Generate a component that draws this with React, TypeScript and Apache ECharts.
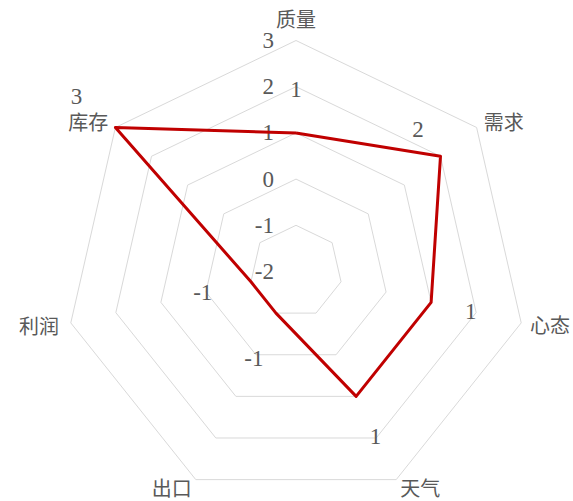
import React, { useEffect, useRef } from "react";
import * as echarts from "echarts";

// Categories read clockwise starting from the top axis
const categories = ["质量", "需求", "心态", "天气", "出口", "利润", "库存"];
const values = [1, 2, 1, 1, -1, -1, 3];
const axisMin = -2;
const axisMax = 3;
const tickLabels = ["-2", "-1", "0", "1", "2", "3"];
// radial placement (in axis units) of each value label
const labelAnchors = [1.95, 1.99, 1.88, 1.96, 0.1, 0.07, 4.08];
// gap between each axis end and its name
const nameGaps = [12, 9, 9, 9, 9, 12, 9];

const GRAY = "#595959";
const NUM_FONT = "'Liberation Serif', 'Times New Roman', serif";
const CJK_FONT = "'Noto Sans CJK SC', sans-serif";

export default function App() {
  const ref = useRef<HTMLDivElement>(null);
  useEffect(() => {
    const chart = echarts.init(ref.current!, null, { renderer: "svg" });
    // ECharts lays radar indicators counter-clockwise; reorder so the chart reads clockwise
    const n = categories.length;
    const order = [0, ...categories.slice(1).map((_, i) => n - 1 - i)];
    const indicator = order.map((i, k) => ({
      name: categories[i],
      min: axisMin,
      max: axisMax,
      nameGap: nameGaps[i],
      ...(k === 0
        ? {
            axisLabel: {
              show: true,
              color: GRAY,
              fontFamily: NUM_FONT,
              fontSize: 23,
              margin: 22,
              formatter: (v: number) => tickLabels[Math.round(v - axisMin)],
            },
          }
        : {}),
    }));
    chart.setOption({
      animation: false,
      radar: {
        center: [296, 271.5],
        radius: 231,
        startAngle: 90,
        splitNumber: 5,
        shape: "polygon",
        indicator,
        nameGap: 9,
        axisName: { color: GRAY, fontSize: 20, fontFamily: CJK_FONT },
        axisLine: { show: false },
        axisTick: { show: false },
        axisLabel: { show: false },
        splitArea: { show: false },
        splitLine: { lineStyle: { color: "#d9d9d9", width: 1 } },
      },
      series: [
        {
          type: "radar",
          symbol: "none",
          lineStyle: { color: "#C00000", width: 3 },
          data: [{ value: order.map((i) => values[i]) }],
          z: 3,
        },
        {
          type: "radar",
          symbol: "circle",
          symbolSize: 1,
          itemStyle: { color: "rgba(0,0,0,0)" },
          lineStyle: { width: 0, opacity: 0 },
          label: {
            show: true,
            position: "inside",
            formatter: (p: any) => {
              const i = labelAnchors.indexOf(p.value);
              const t = String(values[i]);
              return i === 1 ? `{shift|${t}}` : `{n|${t}}`;
            },
            rich: {
              n: { color: GRAY, fontFamily: NUM_FONT, fontSize: 23 },
              shift: { color: GRAY, fontFamily: NUM_FONT, fontSize: 23, padding: [0, 44, 54, 0] },
            },
          },
          data: [{ value: order.map((i) => labelAnchors[i]) }],
          z: 4,
        },
      ],
    });
    return () => chart.dispose();
  }, []);
  return (
    <div
      ref={ref}
      style={{ position: "absolute", left: 0, top: 0, width: 573, height: 501, background: "#fff" }}
    />
  );
}
